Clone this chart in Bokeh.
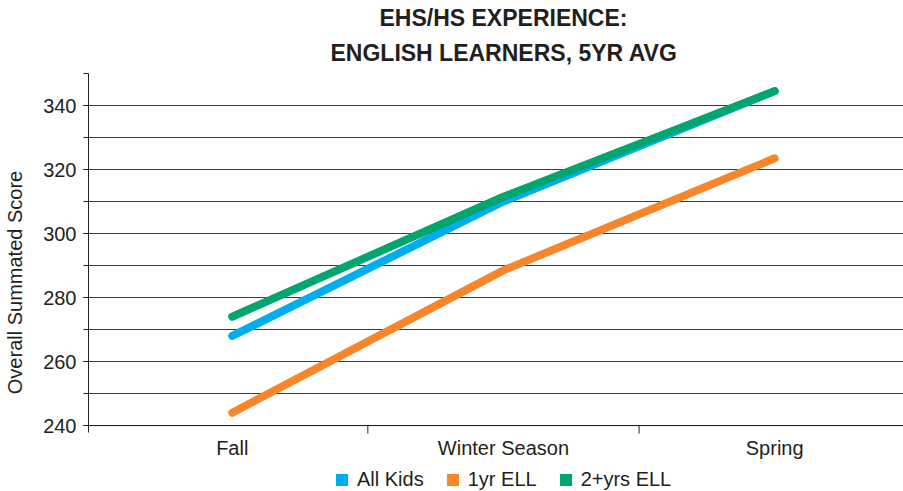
import math
from bokeh.plotting import figure
from bokeh.models import Range1d, FixedTicker, Title, Legend, LegendItem, ColumnDataSource, Span
from bokeh.embed import file_html
from bokeh.resources import INLINE

categories = ["Fall", "Winter Season", "Spring"]
all_kids = [268.0, 310.0, 344.5]
ell_1yr = [244.0, 288.5, 323.5]
ell_2yrs = [274.0, 311.5, 344.5]
series_names = ["All Kids", "1yr ELL", "2+yrs ELL"]
series_colors = ["#00AEEF", "#F7862A", "#00A66E"]
y_label_ticks = [240, 260, 280, 300, 320, 340]
y_minor_ticks = [240, 250, 260, 270, 280, 290, 300, 310, 320, 330, 340, 350]

FONT = "Liberation Sans"
TXT = "#231F20"

xpos = [i + 0.5 for i in range(len(categories))]
separators = [i + 1 for i in range(len(categories) - 1)]

p = figure(width=903, height=491, output_backend="svg", toolbar_location=None,
           x_range=Range1d(-0.03, 2.975), y_range=Range1d(219.4, 350),
           x_axis_location=None,
           min_border_left=88, min_border_right=0, min_border_top=73, min_border_bottom=0)
p.outline_line_color = None
p.background_fill_color = "white"

# Titles (second line first so that it sits closer to the plot)
t2 = Title(text="ENGLISH LEARNERS, 5YR AVG", align="left", text_font=FONT,
           text_font_size="23px", text_font_style="bold", text_color=TXT, offset=242,
           standoff=15)
t1 = Title(text="EHS/HS EXPERIENCE:", align="left", text_font=FONT,
           text_font_size="23px", text_font_style="bold", text_color=TXT, offset=291,
           standoff=0)
p.title.visible = False
p.add_layout(t2, "above")
p.add_layout(t1, "above")

# Y axis
p.yaxis.ticker = FixedTicker(ticks=y_label_ticks, minor_ticks=y_minor_ticks)
p.yaxis.bounds = (237.8, 351)
p.yaxis.axis_label = "Overall Summated Score"
p.yaxis.axis_label_text_font = FONT
p.yaxis.axis_label_text_font_size = "20px"
p.yaxis.axis_label_text_font_style = "normal"
p.yaxis.axis_label_text_color = TXT
p.yaxis.axis_label_standoff = 14
p.yaxis.major_label_text_font = FONT
p.yaxis.major_label_text_font_size = "20px"
p.yaxis.major_label_text_color = TXT
p.yaxis.major_label_standoff = 7
p.yaxis.axis_line_color = "#231F20"
p.yaxis.major_tick_line_color = "#231F20"
p.yaxis.minor_tick_line_color = "#231F20"
p.yaxis.major_tick_out = 5
p.yaxis.major_tick_in = 0
p.yaxis.minor_tick_out = 5
p.yaxis.minor_tick_in = 0

# Grid
p.xgrid.grid_line_color = None
p.ygrid.grid_line_color = "#3a3a3a"
p.ygrid.minor_grid_line_color = "#3a3a3a"
p.ygrid.grid_line_width = 1
p.ygrid.minor_grid_line_width = 1

# Category axis drawn at the bottom of the value range
base = y_label_ticks[0]
p.add_layout(Span(location=base, dimension="width", line_color="#231F20", line_width=1))
p.ray(x=separators, y=[base] * len(separators), length=8, length_units="screen",
      angle=-math.pi / 2, line_color="#231F20", line_width=1)
p.text(x=xpos, y=[base] * len(xpos), text=categories, text_align="center",
       text_baseline="middle", y_offset=22, text_font={"value": FONT},
       text_font_size="20px", text_color=TXT)

# Lines: orange, blue, green (green on top)
order = [1, 0, 2]
data = [all_kids, ell_1yr, ell_2yrs]
for i in order:
    p.line(xpos, data[i], line_color=series_colors[i], line_width=8,
           line_cap="round", line_join="round")

# Legend swatches (not drawn in the plot: NaN coordinates)
items = []
nan = float("nan")
for i in range(3):
    src = ColumnDataSource(dict(left=[nan], right=[nan], top=[nan], bottom=[nan]))
    r = p.quad(left="left", right="right", top="top", bottom="bottom", source=src,
               fill_color=series_colors[i], line_color=None)
    items.append(LegendItem(label=series_names[i], renderers=[r]))

legend = Legend(items=items, orientation="horizontal", location=(246, 0),
                label_text_font=FONT, label_text_font_size="20px", label_text_color=TXT,
                glyph_width=15, glyph_height=15, label_standoff=8, spacing=21,
                padding=0, margin=0, border_line_color=None, background_fill_alpha=0,
                label_height=18)
p.add_layout(legend, "center")

open("out.html", "w").write(file_html(p, INLINE))
